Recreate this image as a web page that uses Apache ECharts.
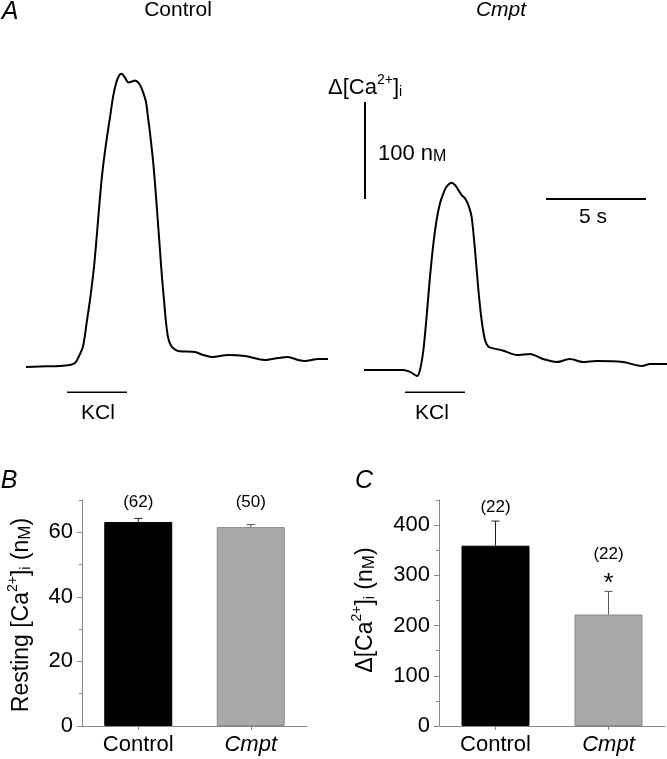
<!DOCTYPE html>
<html><head><meta charset="utf-8">
<script src="https://cdn.jsdelivr.net/npm/echarts@6/dist/echarts.min.js"></script>
<style>html,body{margin:0;padding:0;background:#fff}#c{width:667px;height:759px}</style>
</head><body><div id="c"></div>
<script>
// ---- Panel A: representative traces (time in s, Δ[Ca2+]i in nM above resting) ----
const ctrlTime = [1.30,2.00,3.00,3.50,3.75,3.90,4.15,4.35,4.50,4.70,4.85,5.00,5.15,5.35,5.50,5.65,5.80,5.95,6.08,6.25,6.42,6.60,6.75,6.95,7.10,7.30,7.40,7.50,7.65,7.75,7.85,8.00,8.10,8.20,8.30,8.40,8.50,8.65,8.90,9.75,10.15,10.60,11.40,12.25,12.90,13.25,13.90,14.40,14.90,15.25,15.90,16.40];
const ctrlCa   = [-1,-0.5,0,1,3,8,20,47,68,102,137,174,205,236,256,277,291,299,301,297,292,293,294,291,285,272,256,240,212,188,161,119,91,68,45,30,23,18.5,15.5,14.4,11.3,9.3,11.3,10.3,7.2,6.2,8.2,9.3,6.2,5.1,7.2,7.2];
const cmptTime = [18.2,19.0,20.15,20.5,20.85,21.0,21.17,21.33,21.5,21.67,21.83,22.0,22.17,22.33,22.58,22.75,22.92,23.08,23.25,23.42,23.58,23.75,23.92,24.08,24.25,24.42,24.67,25.17,25.85,26.5,27.15,27.85,28.5,29.15,29.85,31.15,32.1,32.5,33.35];
const cmptCa   = [-4.1,-4.1,-4.1,-6,-10.3,-4,16.5,50.8,92,126.4,150.4,167.6,177.9,184.7,188.8,186.4,181.3,176.1,172.7,165.8,153.8,119.5,78.3,47.4,26.8,19.9,18.2,15.8,11.3,12.4,7.2,4.1,7.2,4.1,5.1,4.1,0,2.1,2.1];
const kclStart = [3.35, 20.25];   // s
const kclDuration = 3;            // s
const scaleCaNM = 100;            // nM
const scaleTimeS = 5;             // s

// ---- Panels B and C ----
const categories   = ['Control', 'Cmpt'];
const restingMean  = [63.2, 61.6];
const restingSem   = [1.1, 0.8];
const restingN     = [62, 50];
const restingTicks = [0, 20, 40, 60];
const restingMinor = [10, 30, 50, 70];
const deltaMean    = [359, 222];
const deltaSem     = [49, 46];
const deltaN       = [22, 22];
const deltaSig     = [false, true];
const deltaTicks   = [0, 100, 200, 300, 400];
const deltaMinor   = [50, 150, 250, 350, 450];

const FONT = 'Liberation Sans, Arial, Helvetica, sans-serif';
const barColors = ['#000000', '#a9a9a9'];
const barBorders = ['#000000', '#8a8a8a'];

const chart = echarts.init(document.getElementById('c'), null, {renderer: 'canvas'});

const KCL_LEVEL = -27, SCALE_T = 18.25, SCALE_BASE = 172, SCALE_H_T0 = 27.3;

function zip(a, b) { return a.map((v, i) => [v, b[i]]); }

function errSeries(idx, mean, sem, ns, sig, aligned) {
  const maxTop = Math.max(...mean.map((m, i) => m + sem[i]));
  return {
    type: 'custom', xAxisIndex: idx, yAxisIndex: idx, z: 5, silent: true,
    data: mean.map((m, i) => [i, m, sem[i], ns[i], sig && sig[i] ? 1 : 0]),
    renderItem(params, api) {
      const i = api.value(0), m = api.value(1), e = api.value(2);
      const n = api.value(3), s = api.value(4);
      const base = api.coord([i, m]);
      const top = api.coord([i, m + e]);
      const x = base[0];
      const col = i === 0 ? '#222' : '#555';
      const children = [
        {type: 'line', shape: {x1: x, y1: base[1], x2: x, y2: top[1]}, style: {stroke: col, lineWidth: 1}},
        {type: 'line', shape: {x1: x - 4, y1: top[1], x2: x + 4, y2: top[1]}, style: {stroke: col, lineWidth: 1}}
      ];
      const ly = aligned ? api.coord([i, maxTop])[1] - 16 : top[1] - (s ? 37 : 14);
      children.push({type: 'text', x: x, y: ly, style: {text: '(' + n + ')', fontSize: 17, fontFamily: FONT, fill: '#000',
        align: 'center', verticalAlign: 'middle', textAlign: 'center', textVerticalAlign: 'middle'}});
      if (s) {
        children.push({type: 'text', x: x, y: top[1] - 14 + 6, style: {text: '*', fontSize: 26, fontFamily: FONT, fill: '#000',
          align: 'center', verticalAlign: 'middle', textAlign: 'center', textVerticalAlign: 'middle'}});
      }
      return {type: 'group', children};
    }
  };
}

function rich(fs) {
  return {
    m: {fontSize: fs, fontFamily: FONT, color: '#000', verticalAlign: 'bottom', lineHeight: fs + 4},
    sup: {fontSize: 14, fontFamily: FONT, color: '#000', verticalAlign: 'top', lineHeight: 14},
    sub: {fontSize: 14, fontFamily: FONT, color: '#000', verticalAlign: 'bottom', lineHeight: 14},
    sc: {fontSize: Math.round(fs * 0.72), fontFamily: FONT, color: '#000', verticalAlign: 'bottom', lineHeight: 16}
  };
}

function catAxis(idx) {
  return {
    type: 'category', gridIndex: idx, data: categories,
    axisLine: {lineStyle: {color: '#888', width: 1}},
    axisTick: {show: true, alignWithLabel: true, length: 4, lineStyle: {color: '#888'}},
    axisLabel: {margin: 8, formatter: v => v === 'Cmpt' ? '{it|Cmpt}' : '{n|' + v + '}',
      rich: {it: {fontStyle: 'italic', fontSize: 22, fontFamily: FONT, color: '#000'},
             n: {fontSize: 22, fontFamily: FONT, color: '#000'}}}
  };
}
function valAxis(idx, max, ticks) {
  return {
    type: 'value', gridIndex: idx, min: 0, max: max,
    axisLine: {show: true, lineStyle: {color: '#888', width: 1}},
    axisTick: {show: true, length: 5, customValues: ticks, lineStyle: {color: '#888'}},
    splitLine: {show: false},
    axisLabel: {customValues: ticks, margin: 9, fontSize: 22, fontFamily: FONT, color: '#000'}
  };
}
function minorAxis(idx, max, ticks) {
  return {
    type: 'value', gridIndex: idx, min: 0, max: max, position: 'left',
    axisLine: {show: false},
    axisTick: {show: true, length: 3, customValues: ticks, lineStyle: {color: '#888'}},
    splitLine: {show: false},
    axisLabel: {show: false}
  };
}

function rotText(x, y, text, fs) {
  return {type: 'text', x: x, y: y, rotation: Math.PI / 2,
    style: {text: text, rich: rich(fs), align: 'center', verticalAlign: 'middle', textAlign: 'center', textVerticalAlign: 'middle'}};
}
function plainText(x, y, text, fs, italic, align) {
  return {type: 'text', x: x, y: y, style: {text: text, fontSize: fs, fontStyle: italic ? 'italic' : 'normal', fontFamily: FONT, fill: '#000',
    align: align || 'center', verticalAlign: 'middle', textAlign: align || 'center', textVerticalAlign: 'middle'}};
}

const option = {
  animation: false,
  backgroundColor: '#fff',
  grid: [
    {left: 0, top: 0, width: 667, height: 400},
    {left: 82, top: 500, width: 225, height: 226},
    {left: 439, top: 500, width: 226, height: 226}
  ],
  xAxis: [
    {type: 'value', gridIndex: 0, min: 0, max: 33.35, show: false},
    catAxis(1), catAxis(2)
  ],
  yAxis: [
    {type: 'value', gridIndex: 0, min: -35, max: 377, show: false},
    valAxis(1, 70, restingTicks),
    valAxis(2, 450, deltaTicks),
    minorAxis(1, 70, restingMinor),
    minorAxis(2, 450, deltaMinor)
  ],
  series: [
    {type: 'line', xAxisIndex: 0, yAxisIndex: 0, data: zip(ctrlTime, ctrlCa), showSymbol: false, smooth: 0.25,
     clip: false, lineStyle: {color: '#000', width: 2}},
    {type: 'line', xAxisIndex: 0, yAxisIndex: 0, data: zip(cmptTime, cmptCa), showSymbol: false, smooth: 0.25,
     clip: false, lineStyle: {color: '#000', width: 2}},
    ...kclStart.map(t => ({type: 'line', xAxisIndex: 0, yAxisIndex: 0, showSymbol: false, clip: false,
      data: [[t, KCL_LEVEL], [t + kclDuration, KCL_LEVEL]], lineStyle: {color: '#000', width: 1.6}})),
    {type: 'line', xAxisIndex: 0, yAxisIndex: 0, showSymbol: false, clip: false,
     data: [[SCALE_T, SCALE_BASE], [SCALE_T, SCALE_BASE + scaleCaNM]], lineStyle: {color: '#000', width: 2}},
    {type: 'line', xAxisIndex: 0, yAxisIndex: 0, showSymbol: false, clip: false,
     data: [[SCALE_H_T0, SCALE_BASE], [SCALE_H_T0 + scaleTimeS, SCALE_BASE]], lineStyle: {color: '#000', width: 2}},
    {type: 'bar', xAxisIndex: 1, yAxisIndex: 1, barWidth: 68,
     data: restingMean.map((v, i) => ({value: v, itemStyle: {color: barColors[i], borderColor: barBorders[i], borderWidth: 1}}))},
    errSeries(1, restingMean, restingSem, restingN, null, true),
    {type: 'bar', xAxisIndex: 2, yAxisIndex: 2, barWidth: 68,
     data: deltaMean.map((v, i) => ({value: v, itemStyle: {color: barColors[i], borderColor: barBorders[i], borderWidth: 1}}))},
    errSeries(2, deltaMean, deltaSem, deltaN, deltaSig, false)
  ],
  graphic: [
    plainText(10, 12, 'A', 25, true),
    plainText(9, 481, 'B', 25, true),
    plainText(364, 481, 'C', 25, true),
    plainText(178, 10, 'Control', 21, false),
    plainText(501, 10, 'Cmpt', 21, true),
    plainText(98, 413, 'KCl', 21, false),
    plainText(432, 413, 'KCl', 21, false),
    plainText(593, 217, '5 s', 21, false),
    {type: 'text', x: 378, y: 152, style: {text: '{m|100 n}{sc|M}', rich: rich(22), align: 'left', verticalAlign: 'middle', textAlign: 'left', textVerticalAlign: 'middle'}},
    {type: 'text', x: 328, y: 86, style: {text: '{m|Δ[Ca}{sup|2+}{m|]}{sub|i}', rich: rich(22), align: 'left', verticalAlign: 'middle', textAlign: 'left', textVerticalAlign: 'middle'}},
    rotText(20, 615, '{m|Resting [Ca}{sup|2+}{m|]}{sub|i}{m| (n}{sc|M}{m|)}', 23),
    rotText(364, 610, '{m|Δ[Ca}{sup|2+}{m|]}{sub|i}{m| (n}{sc|M}{m|)}', 23)
  ]
};
chart.setOption(option);
</script>
</body></html>
